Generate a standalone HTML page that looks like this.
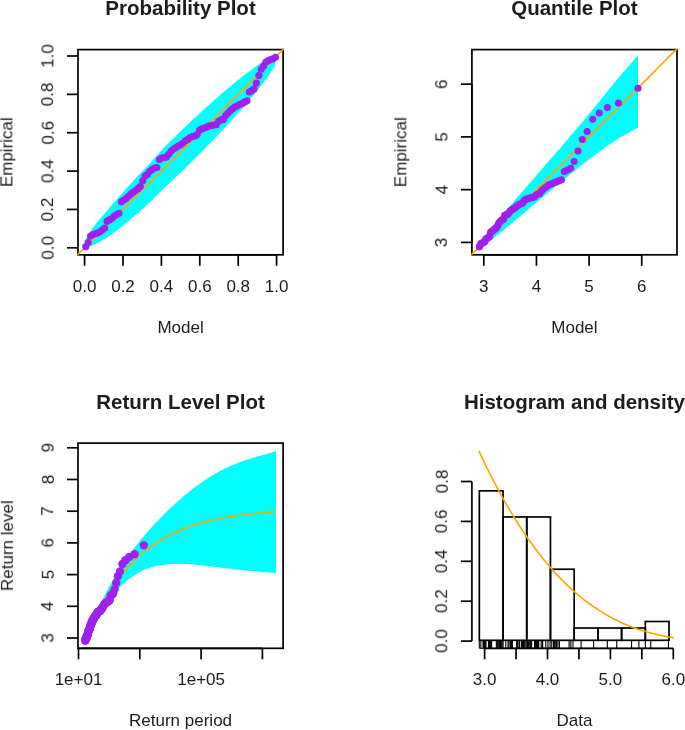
<!DOCTYPE html>
<html><head><meta charset="utf-8"><title>Diagnostic plots</title>
<style>html,body{margin:0;padding:0;background:#fff;overflow:hidden}svg{display:block}text{font-family:"Liberation Sans",sans-serif;fill:#1c1c1c;will-change:transform}</style>
</head><body>
<svg width="685" height="730" viewBox="0 0 685 730">
<rect width="685" height="730" fill="#fff"/>
<defs>
<clipPath id="c1"><rect x="77.25" y="48.85" width="206.60000000000002" height="206.70000000000002"/></clipPath>
<clipPath id="c2"><rect x="471.15" y="48.85" width="206.60000000000002" height="206.70000000000002"/></clipPath>
</defs>
<g><rect x="78.00" y="49.60" width="205.10" height="205.20" fill="none" stroke="#000" stroke-width="1.7"/><text x="180.55" y="15.10" font-size="20.5" text-anchor="middle" font-weight="bold">Probability Plot</text><text x="180.55" y="332.80" font-size="17" text-anchor="middle">Model</text><text x="12.60" y="152.20" font-size="17" text-anchor="middle" transform="rotate(-90 12.60 152.20)">Empirical</text><polygon fill="#00FFFF" points="85.79,247.74 88.16,247.22 90.53,246.32 92.90,245.19 95.27,243.90 97.64,242.68 100.01,241.47 102.38,240.18 104.75,238.83 107.12,237.43 109.49,235.81 111.86,234.06 114.23,232.26 116.60,230.43 118.97,228.58 121.34,226.70 123.71,224.79 126.08,222.86 128.45,220.91 130.82,218.93 133.19,216.94 135.56,214.93 137.93,212.90 140.30,210.85 142.67,208.79 145.04,206.71 147.41,204.62 149.79,202.51 152.16,200.14 154.53,197.72 156.90,195.30 159.27,192.85 161.64,190.40 164.01,188.17 166.38,185.96 168.75,183.75 171.12,181.52 173.49,179.28 175.86,177.02 178.23,174.76 180.60,172.48 182.97,170.19 185.34,167.88 187.71,165.57 190.08,163.24 192.45,160.90 194.82,158.54 197.19,156.18 199.56,153.80 201.93,151.41 204.30,149.00 206.67,146.58 209.04,144.15 211.41,141.70 213.79,139.24 216.16,136.76 218.53,134.27 220.90,131.76 223.27,129.24 225.64,126.70 228.01,124.14 230.38,121.56 232.75,118.96 235.12,116.35 237.49,113.71 239.86,111.04 242.23,108.35 244.60,105.64 246.97,102.89 249.34,100.12 251.71,97.30 254.08,94.45 256.45,91.55 258.82,88.60 261.19,85.59 263.56,82.51 265.93,79.33 268.30,76.03 270.67,72.56 273.04,68.83 275.41,64.54 275.41,56.06 273.04,56.58 270.67,57.48 268.30,58.61 265.93,59.90 263.56,61.31 261.19,62.80 258.82,64.36 256.45,65.99 254.08,67.67 251.71,69.39 249.34,71.14 246.97,72.94 244.60,74.77 242.23,76.62 239.86,78.50 237.49,80.41 235.12,82.34 232.75,84.29 230.38,86.27 228.01,88.26 225.64,90.27 223.27,92.30 220.90,94.35 218.53,96.41 216.16,98.49 213.79,100.58 211.41,102.69 209.04,104.81 206.67,106.95 204.30,109.10 201.93,111.26 199.56,113.44 197.19,115.63 194.82,117.84 192.45,120.05 190.08,122.28 187.71,124.52 185.34,126.78 182.97,129.04 180.60,131.32 178.23,133.61 175.86,135.92 173.49,138.23 171.12,140.56 168.75,142.90 166.38,145.26 164.01,147.62 161.64,150.04 159.27,152.71 156.90,155.39 154.53,158.09 152.16,160.80 149.79,163.50 147.41,165.96 145.04,168.44 142.67,170.93 140.30,173.44 137.93,175.96 135.56,178.50 133.19,181.06 130.82,183.64 128.45,186.24 126.08,188.85 123.71,191.49 121.34,194.16 118.97,196.85 116.60,199.56 114.23,202.31 111.86,205.08 109.49,207.90 107.12,210.65 104.75,213.27 102.38,215.94 100.01,218.68 97.64,221.48 95.27,224.47 92.90,227.77 90.53,231.24 88.16,234.97 85.79,239.26"/><g clip-path="url(#c1)"><line x1="46.20" y1="286.16" x2="315.00" y2="17.64" stroke="#FFA500" stroke-width="1.6"/></g><g fill="#A020F0"><circle cx="85.79" cy="246.65" r="3.55"/><circle cx="88.16" cy="242.24" r="3.55"/><circle cx="90.53" cy="236.00" r="3.55"/><circle cx="92.90" cy="234.57" r="3.55"/><circle cx="95.27" cy="233.80" r="3.55"/><circle cx="97.64" cy="232.90" r="3.55"/><circle cx="100.01" cy="231.69" r="3.55"/><circle cx="102.38" cy="229.85" r="3.55"/><circle cx="104.75" cy="227.95" r="3.55"/><circle cx="107.12" cy="221.33" r="3.55"/><circle cx="109.49" cy="219.89" r="3.55"/><circle cx="111.86" cy="218.45" r="3.55"/><circle cx="114.23" cy="216.15" r="3.55"/><circle cx="116.60" cy="214.48" r="3.55"/><circle cx="118.97" cy="213.28" r="3.55"/><circle cx="121.34" cy="201.86" r="3.55"/><circle cx="123.71" cy="200.04" r="3.55"/><circle cx="126.08" cy="198.51" r="3.55"/><circle cx="128.45" cy="196.28" r="3.55"/><circle cx="130.82" cy="194.17" r="3.55"/><circle cx="133.19" cy="192.27" r="3.55"/><circle cx="135.56" cy="190.45" r="3.55"/><circle cx="137.93" cy="188.63" r="3.55"/><circle cx="140.30" cy="186.50" r="3.55"/><circle cx="142.67" cy="180.80" r="3.55"/><circle cx="145.04" cy="176.05" r="3.55"/><circle cx="147.41" cy="174.21" r="3.55"/><circle cx="149.79" cy="171.31" r="3.55"/><circle cx="152.16" cy="169.41" r="3.55"/><circle cx="154.53" cy="168.01" r="3.55"/><circle cx="156.90" cy="167.49" r="3.55"/><circle cx="159.27" cy="159.46" r="3.55"/><circle cx="161.64" cy="158.04" r="3.55"/><circle cx="164.01" cy="157.56" r="3.55"/><circle cx="166.38" cy="157.08" r="3.55"/><circle cx="168.75" cy="154.20" r="3.55"/><circle cx="171.12" cy="150.94" r="3.55"/><circle cx="173.49" cy="149.02" r="3.55"/><circle cx="175.86" cy="147.49" r="3.55"/><circle cx="178.23" cy="146.09" r="3.55"/><circle cx="180.60" cy="144.86" r="3.55"/><circle cx="182.97" cy="142.96" r="3.55"/><circle cx="185.34" cy="140.81" r="3.55"/><circle cx="187.71" cy="139.43" r="3.55"/><circle cx="190.08" cy="137.44" r="3.55"/><circle cx="192.45" cy="136.48" r="3.55"/><circle cx="194.82" cy="136.00" r="3.55"/><circle cx="197.19" cy="134.60" r="3.55"/><circle cx="199.56" cy="130.30" r="3.55"/><circle cx="201.93" cy="128.90" r="3.55"/><circle cx="204.30" cy="127.94" r="3.55"/><circle cx="206.67" cy="127.00" r="3.55"/><circle cx="209.04" cy="126.05" r="3.55"/><circle cx="211.41" cy="125.59" r="3.55"/><circle cx="213.79" cy="125.11" r="3.55"/><circle cx="216.16" cy="124.63" r="3.55"/><circle cx="218.53" cy="121.31" r="3.55"/><circle cx="220.90" cy="119.91" r="3.55"/><circle cx="223.27" cy="119.41" r="3.55"/><circle cx="225.64" cy="115.61" r="3.55"/><circle cx="228.01" cy="112.96" r="3.55"/><circle cx="230.38" cy="110.55" r="3.55"/><circle cx="232.75" cy="108.65" r="3.55"/><circle cx="235.12" cy="106.75" r="3.55"/><circle cx="237.49" cy="105.83" r="3.55"/><circle cx="239.86" cy="104.39" r="3.55"/><circle cx="242.23" cy="103.60" r="3.55"/><circle cx="244.60" cy="102.16" r="3.55"/><circle cx="246.97" cy="100.74" r="3.55"/><circle cx="249.34" cy="91.96" r="3.55"/><circle cx="251.71" cy="90.57" r="3.55"/><circle cx="254.08" cy="88.88" r="3.55"/><circle cx="256.45" cy="83.03" r="3.55"/><circle cx="258.82" cy="75.59" r="3.55"/><circle cx="261.19" cy="69.32" r="3.55"/><circle cx="263.56" cy="65.98" r="3.55"/><circle cx="265.93" cy="62.06" r="3.55"/><circle cx="268.30" cy="60.61" r="3.55"/><circle cx="270.67" cy="59.56" r="3.55"/><circle cx="273.04" cy="58.84" r="3.55"/><circle cx="275.41" cy="57.21" r="3.55"/></g><line x1="84.60" y1="254.80" x2="276.60" y2="254.80" stroke="#000" stroke-width="1.7"/><line x1="84.60" y1="254.80" x2="84.60" y2="265.80" stroke="#000" stroke-width="1.7"/><text x="84.60" y="291.90" font-size="17" text-anchor="middle">0.0</text><line x1="78.00" y1="247.80" x2="67.00" y2="247.80" stroke="#000" stroke-width="1.7"/><text x="53.40" y="247.80" font-size="17" text-anchor="middle" transform="rotate(-90 53.40 247.80)">0.0</text><line x1="123.00" y1="254.80" x2="123.00" y2="265.80" stroke="#000" stroke-width="1.7"/><text x="123.00" y="291.90" font-size="17" text-anchor="middle">0.2</text><line x1="78.00" y1="209.44" x2="67.00" y2="209.44" stroke="#000" stroke-width="1.7"/><text x="53.40" y="209.44" font-size="17" text-anchor="middle" transform="rotate(-90 53.40 209.44)">0.2</text><line x1="161.40" y1="254.80" x2="161.40" y2="265.80" stroke="#000" stroke-width="1.7"/><text x="161.40" y="291.90" font-size="17" text-anchor="middle">0.4</text><line x1="78.00" y1="171.08" x2="67.00" y2="171.08" stroke="#000" stroke-width="1.7"/><text x="53.40" y="171.08" font-size="17" text-anchor="middle" transform="rotate(-90 53.40 171.08)">0.4</text><line x1="199.80" y1="254.80" x2="199.80" y2="265.80" stroke="#000" stroke-width="1.7"/><text x="199.80" y="291.90" font-size="17" text-anchor="middle">0.6</text><line x1="78.00" y1="132.72" x2="67.00" y2="132.72" stroke="#000" stroke-width="1.7"/><text x="53.40" y="132.72" font-size="17" text-anchor="middle" transform="rotate(-90 53.40 132.72)">0.6</text><line x1="238.20" y1="254.80" x2="238.20" y2="265.80" stroke="#000" stroke-width="1.7"/><text x="238.20" y="291.90" font-size="17" text-anchor="middle">0.8</text><line x1="78.00" y1="94.36" x2="67.00" y2="94.36" stroke="#000" stroke-width="1.7"/><text x="53.40" y="94.36" font-size="17" text-anchor="middle" transform="rotate(-90 53.40 94.36)">0.8</text><line x1="276.60" y1="254.80" x2="276.60" y2="265.80" stroke="#000" stroke-width="1.7"/><text x="276.60" y="291.90" font-size="17" text-anchor="middle">1.0</text><line x1="78.00" y1="56.00" x2="67.00" y2="56.00" stroke="#000" stroke-width="1.7"/><text x="53.40" y="56.00" font-size="17" text-anchor="middle" transform="rotate(-90 53.40 56.00)">1.0</text></g><g><rect x="471.90" y="49.60" width="205.10" height="205.20" fill="none" stroke="#000" stroke-width="1.7"/><text x="574.45" y="15.10" font-size="20.5" text-anchor="middle" font-weight="bold">Quantile Plot</text><text x="574.45" y="332.80" font-size="17" text-anchor="middle">Model</text><text x="406.50" y="152.20" font-size="17" text-anchor="middle" transform="rotate(-90 406.50 152.20)">Empirical</text><polygon fill="#00FFFF" points="479.35,247.18 480.04,247.03 480.73,246.77 481.43,246.44 482.14,246.07 482.86,245.65 483.58,245.21 484.31,244.75 485.05,244.26 485.79,243.76 486.55,243.23 487.31,242.70 488.07,242.14 488.85,241.58 489.64,240.99 490.43,240.40 491.24,239.79 492.05,239.17 492.87,238.54 493.71,237.90 494.55,237.24 495.41,236.57 496.27,235.89 497.15,235.20 498.03,234.49 498.93,233.77 499.84,233.04 500.77,232.29 501.71,231.53 502.66,230.76 503.62,229.97 504.60,229.17 505.59,228.35 506.60,227.52 507.63,226.68 508.67,225.82 509.73,224.94 510.81,224.04 511.91,223.13 513.02,222.20 514.16,221.25 515.32,220.28 516.50,219.30 517.70,218.29 518.93,217.26 520.18,216.20 521.46,215.13 522.76,214.03 524.10,212.90 525.47,211.74 526.87,210.56 528.31,209.35 529.78,208.10 531.29,206.83 532.85,205.51 534.45,204.16 536.09,202.77 537.79,201.33 539.55,199.85 541.36,198.32 543.23,196.74 545.18,195.10 547.20,193.40 549.31,191.63 551.51,189.79 553.81,187.86 556.23,185.85 558.77,183.73 561.46,181.50 564.32,179.14 567.37,176.64 570.64,173.97 574.19,171.09 578.06,167.98 582.35,164.58 587.16,160.82 592.67,156.58 599.21,151.69 607.33,145.85 618.43,138.42 638.00,127.53 638.00,55.29 618.43,77.68 607.33,91.44 599.21,101.47 592.67,109.45 587.16,116.13 582.35,121.91 578.06,127.01 574.19,131.60 570.64,135.78 567.37,139.63 564.32,143.19 561.46,146.52 558.77,149.65 556.23,152.61 553.81,155.40 551.51,158.07 549.31,160.61 547.20,163.04 545.18,165.37 543.23,167.61 541.36,169.77 539.55,171.85 537.79,173.87 536.09,175.82 534.45,177.71 532.85,179.55 531.29,181.33 529.78,183.07 528.31,184.76 526.87,186.41 525.47,188.03 524.10,189.60 522.76,191.14 521.46,192.65 520.18,194.12 518.93,195.57 517.70,196.98 516.50,198.37 515.32,199.74 514.16,201.08 513.02,202.40 511.91,203.69 510.81,204.97 509.73,206.22 508.67,207.46 507.63,208.67 506.60,209.87 505.59,211.06 504.60,212.22 503.62,213.38 502.66,214.51 501.71,215.64 500.77,216.75 499.84,217.84 498.93,218.93 498.03,220.00 497.15,221.07 496.27,222.12 495.41,223.16 494.55,224.20 493.71,225.22 492.87,226.24 492.05,227.25 491.24,228.26 490.43,229.25 489.64,230.25 488.85,231.23 488.07,232.22 487.31,233.20 486.55,234.18 485.79,235.16 485.05,236.14 484.31,237.13 483.58,238.12 482.86,239.12 482.14,240.14 481.43,241.18 480.73,242.26 480.04,243.40 479.35,244.69"/><g clip-path="url(#c2)"><line x1="431.15" y1="295.15" x2="747.05" y2="-21.35" stroke="#FFA500" stroke-width="1.6"/></g><g fill="#A020F0"><circle cx="479.35" cy="246.87" r="3.55"/><circle cx="480.04" cy="245.58" r="3.55"/><circle cx="480.73" cy="243.72" r="3.55"/><circle cx="481.43" cy="243.28" r="3.55"/><circle cx="482.14" cy="243.05" r="3.55"/><circle cx="482.86" cy="242.77" r="3.55"/><circle cx="483.58" cy="242.40" r="3.55"/><circle cx="484.31" cy="241.83" r="3.55"/><circle cx="485.05" cy="241.24" r="3.55"/><circle cx="485.79" cy="239.13" r="3.55"/><circle cx="486.55" cy="238.67" r="3.55"/><circle cx="487.31" cy="238.20" r="3.55"/><circle cx="488.07" cy="237.44" r="3.55"/><circle cx="488.85" cy="236.89" r="3.55"/><circle cx="489.64" cy="236.49" r="3.55"/><circle cx="490.43" cy="232.56" r="3.55"/><circle cx="491.24" cy="231.91" r="3.55"/><circle cx="492.05" cy="231.36" r="3.55"/><circle cx="492.87" cy="230.55" r="3.55"/><circle cx="493.71" cy="229.78" r="3.55"/><circle cx="494.55" cy="229.07" r="3.55"/><circle cx="495.41" cy="228.39" r="3.55"/><circle cx="496.27" cy="227.70" r="3.55"/><circle cx="497.15" cy="226.89" r="3.55"/><circle cx="498.03" cy="224.66" r="3.55"/><circle cx="498.93" cy="222.73" r="3.55"/><circle cx="499.84" cy="221.97" r="3.55"/><circle cx="500.77" cy="220.76" r="3.55"/><circle cx="501.71" cy="219.95" r="3.55"/><circle cx="502.66" cy="219.35" r="3.55"/><circle cx="503.62" cy="219.13" r="3.55"/><circle cx="504.60" cy="215.55" r="3.55"/><circle cx="505.59" cy="214.89" r="3.55"/><circle cx="506.60" cy="214.67" r="3.55"/><circle cx="507.63" cy="214.45" r="3.55"/><circle cx="508.67" cy="213.09" r="3.55"/><circle cx="509.73" cy="211.52" r="3.55"/><circle cx="510.81" cy="210.57" r="3.55"/><circle cx="511.91" cy="209.81" r="3.55"/><circle cx="513.02" cy="209.10" r="3.55"/><circle cx="514.16" cy="208.47" r="3.55"/><circle cx="515.32" cy="207.49" r="3.55"/><circle cx="516.50" cy="206.36" r="3.55"/><circle cx="517.70" cy="205.62" r="3.55"/><circle cx="518.93" cy="204.53" r="3.55"/><circle cx="520.18" cy="204.00" r="3.55"/><circle cx="521.46" cy="203.74" r="3.55"/><circle cx="522.76" cy="202.95" r="3.55"/><circle cx="524.10" cy="200.48" r="3.55"/><circle cx="525.47" cy="199.65" r="3.55"/><circle cx="526.87" cy="199.08" r="3.55"/><circle cx="528.31" cy="198.51" r="3.55"/><circle cx="529.78" cy="197.93" r="3.55"/><circle cx="531.29" cy="197.64" r="3.55"/><circle cx="532.85" cy="197.35" r="3.55"/><circle cx="534.45" cy="197.05" r="3.55"/><circle cx="536.09" cy="194.94" r="3.55"/><circle cx="537.79" cy="194.03" r="3.55"/><circle cx="539.55" cy="193.70" r="3.55"/><circle cx="541.36" cy="191.13" r="3.55"/><circle cx="543.23" cy="189.26" r="3.55"/><circle cx="545.18" cy="187.50" r="3.55"/><circle cx="547.20" cy="186.07" r="3.55"/><circle cx="549.31" cy="184.61" r="3.55"/><circle cx="551.51" cy="183.88" r="3.55"/><circle cx="553.81" cy="182.73" r="3.55"/><circle cx="556.23" cy="182.09" r="3.55"/><circle cx="558.77" cy="180.89" r="3.55"/><circle cx="561.46" cy="179.68" r="3.55"/><circle cx="564.32" cy="171.50" r="3.55"/><circle cx="567.37" cy="170.08" r="3.55"/><circle cx="570.64" cy="168.29" r="3.55"/><circle cx="574.19" cy="161.48" r="3.55"/><circle cx="578.06" cy="150.98" r="3.55"/><circle cx="582.35" cy="139.48" r="3.55"/><circle cx="587.16" cy="131.57" r="3.55"/><circle cx="592.67" cy="119.18" r="3.55"/><circle cx="599.21" cy="113.00" r="3.55"/><circle cx="607.33" cy="107.57" r="3.55"/><circle cx="618.43" cy="103.09" r="3.55"/><circle cx="638.00" cy="88.21" r="3.55"/></g><line x1="483.80" y1="254.80" x2="641.75" y2="254.80" stroke="#000" stroke-width="1.7"/><line x1="471.90" y1="242.40" x2="471.90" y2="84.15" stroke="#000" stroke-width="1.7"/><line x1="483.80" y1="254.80" x2="483.80" y2="265.80" stroke="#000" stroke-width="1.7"/><text x="483.80" y="291.90" font-size="17" text-anchor="middle">3</text><line x1="471.90" y1="242.40" x2="460.90" y2="242.40" stroke="#000" stroke-width="1.7"/><text x="447.30" y="242.40" font-size="17" text-anchor="middle" transform="rotate(-90 447.30 242.40)">3</text><line x1="536.45" y1="254.80" x2="536.45" y2="265.80" stroke="#000" stroke-width="1.7"/><text x="536.45" y="291.90" font-size="17" text-anchor="middle">4</text><line x1="471.90" y1="189.65" x2="460.90" y2="189.65" stroke="#000" stroke-width="1.7"/><text x="447.30" y="189.65" font-size="17" text-anchor="middle" transform="rotate(-90 447.30 189.65)">4</text><line x1="589.10" y1="254.80" x2="589.10" y2="265.80" stroke="#000" stroke-width="1.7"/><text x="589.10" y="291.90" font-size="17" text-anchor="middle">5</text><line x1="471.90" y1="136.90" x2="460.90" y2="136.90" stroke="#000" stroke-width="1.7"/><text x="447.30" y="136.90" font-size="17" text-anchor="middle" transform="rotate(-90 447.30 136.90)">5</text><line x1="641.75" y1="254.80" x2="641.75" y2="265.80" stroke="#000" stroke-width="1.7"/><text x="641.75" y="291.90" font-size="17" text-anchor="middle">6</text><line x1="471.90" y1="84.15" x2="460.90" y2="84.15" stroke="#000" stroke-width="1.7"/><text x="447.30" y="84.15" font-size="17" text-anchor="middle" transform="rotate(-90 447.30 84.15)">6</text></g><g><polygon fill="#00FFFF" points="100.80,603.23 102.27,600.13 103.74,597.12 105.22,594.18 106.69,591.32 108.16,588.53 109.63,585.80 111.11,583.14 112.58,580.54 114.05,578.01 115.52,575.53 116.99,573.10 118.47,570.73 119.94,568.40 121.41,566.13 122.88,563.90 124.36,561.71 125.83,559.57 127.30,557.47 128.77,555.40 130.25,553.38 131.72,551.38 133.19,549.43 134.66,547.50 136.13,545.61 137.61,543.74 139.08,541.91 140.55,540.10 142.02,538.31 143.50,536.56 144.97,534.83 146.44,533.12 147.91,531.43 149.38,529.77 150.86,528.13 152.33,526.51 153.80,524.91 155.27,523.32 156.75,521.76 158.22,520.22 159.69,518.69 161.16,517.19 162.64,515.70 164.11,514.23 165.58,512.77 167.05,511.33 168.52,509.91 170.00,508.51 171.47,507.12 172.94,505.75 174.41,504.39 175.89,503.05 177.36,501.73 178.83,500.43 180.30,499.14 181.77,497.86 183.25,496.61 184.72,495.37 186.19,494.15 187.66,492.94 189.14,491.75 190.61,490.58 192.08,489.43 193.55,488.30 195.03,487.18 196.50,486.08 197.97,485.00 199.44,483.93 200.91,482.89 202.39,481.86 203.86,480.86 205.33,479.87 206.80,478.90 208.28,477.95 209.75,477.02 211.22,476.11 212.69,475.22 214.16,474.35 215.64,473.50 217.11,472.66 218.58,471.85 220.05,471.06 221.53,470.29 223.00,469.53 224.47,468.80 225.94,468.08 227.42,467.38 228.89,466.71 230.36,466.05 231.83,465.40 233.30,464.78 234.78,464.17 236.25,463.58 237.72,463.01 239.19,462.45 240.67,461.91 242.14,461.38 243.61,460.87 245.08,460.37 246.55,459.88 248.03,459.41 249.50,458.94 250.97,458.49 252.44,458.04 253.92,457.60 255.39,457.16 256.86,456.74 258.33,456.31 259.81,455.89 261.28,455.47 262.75,455.04 264.22,454.62 265.69,454.19 267.17,453.75 268.64,453.31 270.11,452.86 271.58,452.39 273.06,451.91 274.53,451.42 276.00,450.90 276.00,572.90 272.00,572.70 268.00,572.40 264.00,572.20 260.00,571.80 256.00,571.50 252.00,571.10 248.00,570.70 244.00,570.30 240.00,569.80 236.00,569.40 232.00,568.90 228.00,568.40 224.00,567.90 220.00,567.40 216.00,567.00 212.00,566.50 208.00,566.00 204.00,565.60 200.00,565.20 196.00,564.80 192.00,564.40 188.00,564.10 184.00,563.90 180.00,563.80 176.00,563.80 172.00,563.90 168.00,564.10 165.00,564.40 163.40,564.70 161.80,564.90 160.20,565.10 158.60,565.40 157.00,565.80 155.40,566.10 153.80,566.50 152.20,567.00 150.60,567.40 149.10,568.00 147.50,568.50 145.90,569.10 144.30,569.80 142.70,570.50 141.10,571.30 139.50,572.10 137.90,573.00 136.30,573.90 134.70,574.90 133.10,576.00 131.50,577.10 129.90,578.20 128.30,579.50 126.70,580.80 125.10,582.20 123.50,583.60 121.90,585.20 120.40,586.80 118.80,588.50 100.80,606.00"/><polyline fill="none" stroke="#FFA500" stroke-width="1.6" points="99.92,608.69 100.81,607.02 101.69,605.39 102.58,603.78 103.46,602.20 104.35,600.65 105.23,599.12 106.12,597.62 107.00,596.14 107.89,594.68 108.77,593.25 109.66,591.84 110.54,590.46 111.43,589.10 112.31,587.76 113.20,586.44 114.08,585.15 114.97,583.88 115.85,582.62 116.73,581.39 117.62,580.18 118.50,578.99 119.39,577.82 120.27,576.66 121.16,575.53 122.04,574.41 122.93,573.32 123.81,572.24 124.70,571.18 125.58,570.13 126.47,569.11 127.35,568.10 128.24,567.11 129.12,566.13 130.01,565.17 130.89,564.23 131.78,563.30 132.66,562.38 133.55,561.49 134.43,560.60 135.32,559.73 136.20,558.88 137.09,558.04 137.97,557.21 138.85,556.40 139.74,555.60 140.62,554.81 141.51,554.04 142.39,553.28 143.28,552.53 144.16,551.79 145.05,551.07 145.93,550.36 146.82,549.66 147.70,548.97 148.59,548.29 149.47,547.62 150.36,546.97 151.24,546.33 152.13,545.69 153.01,545.07 153.90,544.45 154.78,543.85 155.67,543.26 156.55,542.68 157.44,542.10 158.32,541.54 159.21,540.98 160.09,540.44 160.98,539.90 161.86,539.37 162.74,538.85 163.63,538.34 164.51,537.84 165.40,537.35 166.28,536.86 167.17,536.38 168.05,535.91 168.94,535.45 169.82,535.00 170.71,534.55 171.59,534.11 172.48,533.68 173.36,533.25 174.25,532.83 175.13,532.42 176.02,532.02 176.90,531.62 177.79,531.23 178.67,530.84 179.56,530.47 180.44,530.09 181.33,529.73 182.21,529.37 183.10,529.01 183.98,528.66 184.86,528.32 185.75,527.98 186.63,527.65 187.52,527.33 188.40,527.01 189.29,526.69 190.17,526.38 191.06,526.08 191.94,525.78 192.83,525.48 193.71,525.19 194.60,524.90 195.48,524.62 196.37,524.35 197.25,524.08 198.14,523.81 199.02,523.55 199.91,523.29 200.79,523.03 201.68,522.78 202.56,522.54 203.45,522.30 204.33,522.06 205.22,521.83 206.10,521.60 206.99,521.37 207.87,521.15 208.75,520.93 209.64,520.71 210.52,520.50 211.41,520.29 212.29,520.09 213.18,519.89 214.06,519.69 214.95,519.49 215.83,519.30 216.72,519.11 217.60,518.93 218.49,518.75 219.37,518.57 220.26,518.39 221.14,518.22 222.03,518.05 222.91,517.88 223.80,517.71 224.68,517.55 225.57,517.39 226.45,517.24 227.34,517.08 228.22,516.93 229.11,516.78 229.99,516.63 230.87,516.49 231.76,516.35 232.64,516.21 233.53,516.07 234.41,515.94 235.30,515.80 236.18,515.67 237.07,515.54 237.95,515.42 238.84,515.29 239.72,515.17 240.61,515.05 241.49,514.93 242.38,514.82 243.26,514.70 244.15,514.59 245.03,514.48 245.92,514.37 246.80,514.26 247.69,514.16 248.57,514.05 249.46,513.95 250.34,513.85 251.23,513.75 252.11,513.66 253.00,513.56 253.88,513.47 254.76,513.37 255.65,513.28 256.53,513.19 257.42,513.11 258.30,513.02 259.19,512.94 260.07,512.85 260.96,512.77 261.84,512.69 262.73,512.61 263.61,512.53 264.50,512.45 265.38,512.38 266.27,512.30 267.15,512.23 268.04,512.16 268.92,512.09 269.81,512.02 270.69,511.95 271.58,511.88 272.46,511.82 273.35,511.75 274.23,511.69 275.12,511.63 276.00,511.56"/><g fill="#A020F0"><circle cx="85.33" cy="640.68" r="4.2"/><circle cx="85.49" cy="639.91" r="4.2"/><circle cx="85.66" cy="638.79" r="4.2"/><circle cx="85.83" cy="638.53" r="4.2"/><circle cx="86.00" cy="638.39" r="4.2"/><circle cx="86.18" cy="638.22" r="4.2"/><circle cx="86.35" cy="638.00" r="4.2"/><circle cx="86.53" cy="637.66" r="4.2"/><circle cx="86.71" cy="637.30" r="4.2"/><circle cx="86.90" cy="636.04" r="4.2"/><circle cx="87.08" cy="635.76" r="4.2"/><circle cx="87.27" cy="635.48" r="4.2"/><circle cx="87.46" cy="635.02" r="4.2"/><circle cx="87.66" cy="634.69" r="4.2"/><circle cx="87.86" cy="634.45" r="4.2"/><circle cx="88.06" cy="632.09" r="4.2"/><circle cx="88.26" cy="631.70" r="4.2"/><circle cx="88.46" cy="631.36" r="4.2"/><circle cx="88.67" cy="630.88" r="4.2"/><circle cx="88.89" cy="630.41" r="4.2"/><circle cx="89.10" cy="629.99" r="4.2"/><circle cx="89.32" cy="629.58" r="4.2"/><circle cx="89.55" cy="629.17" r="4.2"/><circle cx="89.78" cy="628.68" r="4.2"/><circle cx="90.01" cy="627.34" r="4.2"/><circle cx="90.24" cy="626.18" r="4.2"/><circle cx="90.48" cy="625.73" r="4.2"/><circle cx="90.73" cy="625.00" r="4.2"/><circle cx="90.98" cy="624.51" r="4.2"/><circle cx="91.23" cy="624.15" r="4.2"/><circle cx="91.49" cy="624.01" r="4.2"/><circle cx="91.75" cy="621.86" r="4.2"/><circle cx="92.02" cy="621.47" r="4.2"/><circle cx="92.29" cy="621.34" r="4.2"/><circle cx="92.57" cy="621.20" r="4.2"/><circle cx="92.86" cy="620.39" r="4.2"/><circle cx="93.15" cy="619.44" r="4.2"/><circle cx="93.45" cy="618.87" r="4.2"/><circle cx="93.76" cy="618.41" r="4.2"/><circle cx="94.07" cy="617.99" r="4.2"/><circle cx="94.39" cy="617.61" r="4.2"/><circle cx="94.72" cy="617.02" r="4.2"/><circle cx="95.06" cy="616.34" r="4.2"/><circle cx="95.40" cy="615.89" r="4.2"/><circle cx="95.76" cy="615.24" r="4.2"/><circle cx="96.12" cy="614.93" r="4.2"/><circle cx="96.50" cy="614.77" r="4.2"/><circle cx="96.88" cy="614.30" r="4.2"/><circle cx="97.28" cy="612.81" r="4.2"/><circle cx="97.69" cy="612.31" r="4.2"/><circle cx="98.11" cy="611.97" r="4.2"/><circle cx="98.55" cy="611.63" r="4.2"/><circle cx="99.00" cy="611.27" r="4.2"/><circle cx="99.47" cy="611.10" r="4.2"/><circle cx="99.95" cy="610.92" r="4.2"/><circle cx="100.46" cy="610.75" r="4.2"/><circle cx="100.98" cy="609.48" r="4.2"/><circle cx="101.52" cy="608.93" r="4.2"/><circle cx="102.09" cy="608.73" r="4.2"/><circle cx="102.68" cy="607.19" r="4.2"/><circle cx="103.30" cy="606.07" r="4.2"/><circle cx="103.95" cy="605.01" r="4.2"/><circle cx="104.63" cy="604.15" r="4.2"/><circle cx="105.35" cy="603.27" r="4.2"/><circle cx="106.11" cy="602.83" r="4.2"/><circle cx="106.92" cy="602.14" r="4.2"/><circle cx="107.78" cy="601.76" r="4.2"/><circle cx="108.70" cy="601.04" r="4.2"/><circle cx="109.68" cy="600.31" r="4.2"/><circle cx="110.75" cy="595.40" r="4.2"/><circle cx="111.91" cy="594.54" r="4.2"/><circle cx="113.17" cy="593.46" r="4.2"/><circle cx="114.58" cy="589.37" r="4.2"/><circle cx="116.14" cy="583.06" r="4.2"/><circle cx="117.92" cy="576.15" r="4.2"/><circle cx="119.97" cy="571.40" r="4.2"/><circle cx="122.40" cy="563.95" r="4.2"/><circle cx="125.37" cy="560.24" r="4.2"/><circle cx="129.20" cy="556.97" r="4.2"/><circle cx="134.60" cy="554.28" r="4.2"/><circle cx="143.82" cy="545.34" r="4.2"/></g><rect x="78.00" y="443.10" width="205.10" height="205.20" fill="none" stroke="#000" stroke-width="1.7"/><text x="180.55" y="408.60" font-size="20.5" text-anchor="middle" font-weight="bold">Return Level Plot</text><text x="180.55" y="726.30" font-size="17" text-anchor="middle">Return period</text><text x="12.60" y="545.70" font-size="17" text-anchor="middle" transform="rotate(-90 12.60 545.70)">Return level</text><line x1="78.50" y1="648.30" x2="262.40" y2="648.30" stroke="#000" stroke-width="1.7"/><line x1="78.50" y1="648.30" x2="78.50" y2="659.30" stroke="#000" stroke-width="1.7"/><line x1="139.80" y1="648.30" x2="139.80" y2="659.30" stroke="#000" stroke-width="1.7"/><line x1="201.10" y1="648.30" x2="201.10" y2="659.30" stroke="#000" stroke-width="1.7"/><line x1="262.40" y1="648.30" x2="262.40" y2="659.30" stroke="#000" stroke-width="1.7"/><text x="78.50" y="685.40" font-size="17" text-anchor="middle">1e+01</text><text x="201.10" y="685.40" font-size="17" text-anchor="middle">1e+05</text><line x1="78.00" y1="638.00" x2="67.00" y2="638.00" stroke="#000" stroke-width="1.7"/><text x="53.40" y="638.00" font-size="17" text-anchor="middle" transform="rotate(-90 53.40 638.00)">3</text><line x1="78.00" y1="606.30" x2="67.00" y2="606.30" stroke="#000" stroke-width="1.7"/><text x="53.40" y="606.30" font-size="17" text-anchor="middle" transform="rotate(-90 53.40 606.30)">4</text><line x1="78.00" y1="574.60" x2="67.00" y2="574.60" stroke="#000" stroke-width="1.7"/><text x="53.40" y="574.60" font-size="17" text-anchor="middle" transform="rotate(-90 53.40 574.60)">5</text><line x1="78.00" y1="542.90" x2="67.00" y2="542.90" stroke="#000" stroke-width="1.7"/><text x="53.40" y="542.90" font-size="17" text-anchor="middle" transform="rotate(-90 53.40 542.90)">6</text><line x1="78.00" y1="511.20" x2="67.00" y2="511.20" stroke="#000" stroke-width="1.7"/><text x="53.40" y="511.20" font-size="17" text-anchor="middle" transform="rotate(-90 53.40 511.20)">7</text><line x1="78.00" y1="479.50" x2="67.00" y2="479.50" stroke="#000" stroke-width="1.7"/><text x="53.40" y="479.50" font-size="17" text-anchor="middle" transform="rotate(-90 53.40 479.50)">8</text><line x1="78.00" y1="447.80" x2="67.00" y2="447.80" stroke="#000" stroke-width="1.7"/><text x="53.40" y="447.80" font-size="17" text-anchor="middle" transform="rotate(-90 53.40 447.80)">9</text></g><g><rect x="479.32" y="490.84" width="23.71" height="149.46" fill="none" stroke="#000" stroke-width="1.7"/><rect x="503.03" y="516.97" width="23.71" height="123.33" fill="none" stroke="#000" stroke-width="1.7"/><rect x="526.74" y="516.97" width="23.71" height="123.33" fill="none" stroke="#000" stroke-width="1.7"/><rect x="550.46" y="569.24" width="23.71" height="71.06" fill="none" stroke="#000" stroke-width="1.7"/><rect x="574.17" y="628.03" width="23.71" height="12.27" fill="none" stroke="#000" stroke-width="1.7"/><rect x="597.88" y="628.03" width="23.71" height="12.27" fill="none" stroke="#000" stroke-width="1.7"/><rect x="621.60" y="628.03" width="23.71" height="12.27" fill="none" stroke="#000" stroke-width="1.7"/><rect x="645.31" y="621.50" width="23.71" height="18.80" fill="none" stroke="#000" stroke-width="1.7"/><line x1="479.27" y1="641.00" x2="479.27" y2="648.30" stroke="#000" stroke-width="1.1"/><line x1="480.81" y1="641.00" x2="480.81" y2="648.30" stroke="#000" stroke-width="1.1"/><line x1="483.03" y1="641.00" x2="483.03" y2="648.30" stroke="#000" stroke-width="1.1"/><line x1="483.55" y1="641.00" x2="483.55" y2="648.30" stroke="#000" stroke-width="1.1"/><line x1="483.83" y1="641.00" x2="483.83" y2="648.30" stroke="#000" stroke-width="1.1"/><line x1="484.16" y1="641.00" x2="484.16" y2="648.30" stroke="#000" stroke-width="1.1"/><line x1="484.60" y1="641.00" x2="484.60" y2="648.30" stroke="#000" stroke-width="1.1"/><line x1="485.28" y1="641.00" x2="485.28" y2="648.30" stroke="#000" stroke-width="1.1"/><line x1="485.99" y1="641.00" x2="485.99" y2="648.30" stroke="#000" stroke-width="1.1"/><line x1="488.49" y1="641.00" x2="488.49" y2="648.30" stroke="#000" stroke-width="1.1"/><line x1="489.05" y1="641.00" x2="489.05" y2="648.30" stroke="#000" stroke-width="1.1"/><line x1="489.61" y1="641.00" x2="489.61" y2="648.30" stroke="#000" stroke-width="1.1"/><line x1="490.51" y1="641.00" x2="490.51" y2="648.30" stroke="#000" stroke-width="1.1"/><line x1="491.17" y1="641.00" x2="491.17" y2="648.30" stroke="#000" stroke-width="1.1"/><line x1="491.65" y1="641.00" x2="491.65" y2="648.30" stroke="#000" stroke-width="1.1"/><line x1="496.34" y1="641.00" x2="496.34" y2="648.30" stroke="#000" stroke-width="1.1"/><line x1="497.11" y1="641.00" x2="497.11" y2="648.30" stroke="#000" stroke-width="1.1"/><line x1="497.77" y1="641.00" x2="497.77" y2="648.30" stroke="#000" stroke-width="1.1"/><line x1="498.73" y1="641.00" x2="498.73" y2="648.30" stroke="#000" stroke-width="1.1"/><line x1="499.65" y1="641.00" x2="499.65" y2="648.30" stroke="#000" stroke-width="1.1"/><line x1="500.49" y1="641.00" x2="500.49" y2="648.30" stroke="#000" stroke-width="1.1"/><line x1="501.31" y1="641.00" x2="501.31" y2="648.30" stroke="#000" stroke-width="1.1"/><line x1="502.13" y1="641.00" x2="502.13" y2="648.30" stroke="#000" stroke-width="1.1"/><line x1="503.10" y1="641.00" x2="503.10" y2="648.30" stroke="#000" stroke-width="1.1"/><line x1="505.76" y1="641.00" x2="505.76" y2="648.30" stroke="#000" stroke-width="1.1"/><line x1="508.05" y1="641.00" x2="508.05" y2="648.30" stroke="#000" stroke-width="1.1"/><line x1="508.96" y1="641.00" x2="508.96" y2="648.30" stroke="#000" stroke-width="1.1"/><line x1="510.40" y1="641.00" x2="510.40" y2="648.30" stroke="#000" stroke-width="1.1"/><line x1="511.36" y1="641.00" x2="511.36" y2="648.30" stroke="#000" stroke-width="1.1"/><line x1="512.08" y1="641.00" x2="512.08" y2="648.30" stroke="#000" stroke-width="1.1"/><line x1="512.35" y1="641.00" x2="512.35" y2="648.30" stroke="#000" stroke-width="1.1"/><line x1="516.62" y1="641.00" x2="516.62" y2="648.30" stroke="#000" stroke-width="1.1"/><line x1="517.40" y1="641.00" x2="517.40" y2="648.30" stroke="#000" stroke-width="1.1"/><line x1="517.66" y1="641.00" x2="517.66" y2="648.30" stroke="#000" stroke-width="1.1"/><line x1="517.93" y1="641.00" x2="517.93" y2="648.30" stroke="#000" stroke-width="1.1"/><line x1="519.55" y1="641.00" x2="519.55" y2="648.30" stroke="#000" stroke-width="1.1"/><line x1="521.42" y1="641.00" x2="521.42" y2="648.30" stroke="#000" stroke-width="1.1"/><line x1="522.55" y1="641.00" x2="522.55" y2="648.30" stroke="#000" stroke-width="1.1"/><line x1="523.47" y1="641.00" x2="523.47" y2="648.30" stroke="#000" stroke-width="1.1"/><line x1="524.31" y1="641.00" x2="524.31" y2="648.30" stroke="#000" stroke-width="1.1"/><line x1="525.06" y1="641.00" x2="525.06" y2="648.30" stroke="#000" stroke-width="1.1"/><line x1="526.23" y1="641.00" x2="526.23" y2="648.30" stroke="#000" stroke-width="1.1"/><line x1="527.58" y1="641.00" x2="527.58" y2="648.30" stroke="#000" stroke-width="1.1"/><line x1="528.46" y1="641.00" x2="528.46" y2="648.30" stroke="#000" stroke-width="1.1"/><line x1="529.75" y1="641.00" x2="529.75" y2="648.30" stroke="#000" stroke-width="1.1"/><line x1="530.38" y1="641.00" x2="530.38" y2="648.30" stroke="#000" stroke-width="1.1"/><line x1="530.70" y1="641.00" x2="530.70" y2="648.30" stroke="#000" stroke-width="1.1"/><line x1="531.64" y1="641.00" x2="531.64" y2="648.30" stroke="#000" stroke-width="1.1"/><line x1="534.58" y1="641.00" x2="534.58" y2="648.30" stroke="#000" stroke-width="1.1"/><line x1="535.57" y1="641.00" x2="535.57" y2="648.30" stroke="#000" stroke-width="1.1"/><line x1="536.26" y1="641.00" x2="536.26" y2="648.30" stroke="#000" stroke-width="1.1"/><line x1="536.93" y1="641.00" x2="536.93" y2="648.30" stroke="#000" stroke-width="1.1"/><line x1="537.63" y1="641.00" x2="537.63" y2="648.30" stroke="#000" stroke-width="1.1"/><line x1="537.97" y1="641.00" x2="537.97" y2="648.30" stroke="#000" stroke-width="1.1"/><line x1="538.32" y1="641.00" x2="538.32" y2="648.30" stroke="#000" stroke-width="1.1"/><line x1="538.68" y1="641.00" x2="538.68" y2="648.30" stroke="#000" stroke-width="1.1"/><line x1="541.19" y1="641.00" x2="541.19" y2="648.30" stroke="#000" stroke-width="1.1"/><line x1="542.28" y1="641.00" x2="542.28" y2="648.30" stroke="#000" stroke-width="1.1"/><line x1="542.67" y1="641.00" x2="542.67" y2="648.30" stroke="#000" stroke-width="1.1"/><line x1="545.74" y1="641.00" x2="545.74" y2="648.30" stroke="#000" stroke-width="1.1"/><line x1="547.97" y1="641.00" x2="547.97" y2="648.30" stroke="#000" stroke-width="1.1"/><line x1="550.07" y1="641.00" x2="550.07" y2="648.30" stroke="#000" stroke-width="1.1"/><line x1="551.77" y1="641.00" x2="551.77" y2="648.30" stroke="#000" stroke-width="1.1"/><line x1="553.51" y1="641.00" x2="553.51" y2="648.30" stroke="#000" stroke-width="1.1"/><line x1="554.38" y1="641.00" x2="554.38" y2="648.30" stroke="#000" stroke-width="1.1"/><line x1="555.75" y1="641.00" x2="555.75" y2="648.30" stroke="#000" stroke-width="1.1"/><line x1="556.52" y1="641.00" x2="556.52" y2="648.30" stroke="#000" stroke-width="1.1"/><line x1="557.94" y1="641.00" x2="557.94" y2="648.30" stroke="#000" stroke-width="1.1"/><line x1="559.39" y1="641.00" x2="559.39" y2="648.30" stroke="#000" stroke-width="1.1"/><line x1="569.14" y1="641.00" x2="569.14" y2="648.30" stroke="#000" stroke-width="1.1"/><line x1="570.84" y1="641.00" x2="570.84" y2="648.30" stroke="#000" stroke-width="1.1"/><line x1="572.97" y1="641.00" x2="572.97" y2="648.30" stroke="#000" stroke-width="1.1"/><line x1="581.09" y1="641.00" x2="581.09" y2="648.30" stroke="#000" stroke-width="1.1"/><line x1="593.61" y1="641.00" x2="593.61" y2="648.30" stroke="#000" stroke-width="1.1"/><line x1="607.32" y1="641.00" x2="607.32" y2="648.30" stroke="#000" stroke-width="1.1"/><line x1="616.75" y1="641.00" x2="616.75" y2="648.30" stroke="#000" stroke-width="1.1"/><line x1="631.53" y1="641.00" x2="631.53" y2="648.30" stroke="#000" stroke-width="1.1"/><line x1="638.89" y1="641.00" x2="638.89" y2="648.30" stroke="#000" stroke-width="1.1"/><line x1="645.37" y1="641.00" x2="645.37" y2="648.30" stroke="#000" stroke-width="1.1"/><line x1="650.72" y1="641.00" x2="650.72" y2="648.30" stroke="#000" stroke-width="1.1"/><line x1="668.46" y1="641.00" x2="668.46" y2="648.30" stroke="#000" stroke-width="1.1"/><line x1="479.27" y1="648.30" x2="668.46" y2="648.30" stroke="#000" stroke-width="0.95"/><polyline fill="none" stroke="#FFA500" stroke-width="1.6" points="478.88,450.92 480.52,454.44 482.16,457.92 483.80,461.36 485.44,464.75 487.08,468.10 488.72,471.41 490.36,474.67 492.00,477.90 493.64,481.08 495.28,484.22 496.92,487.31 498.56,490.37 500.20,493.39 501.84,496.36 503.48,499.30 505.12,502.19 506.76,505.05 508.40,507.87 510.04,510.64 511.68,513.38 513.32,516.08 514.96,518.74 516.60,521.37 518.24,523.95 519.88,526.50 521.52,529.01 523.16,531.49 524.80,533.92 526.44,536.32 528.08,538.69 529.72,541.02 531.36,543.31 533.00,545.57 534.64,547.79 536.28,549.98 537.92,552.13 539.56,554.25 541.20,556.34 542.84,558.39 544.48,560.41 546.12,562.39 547.76,564.35 549.40,566.27 551.04,568.16 552.68,570.01 554.32,571.84 555.96,573.63 557.60,575.39 559.24,577.12 560.88,578.82 562.52,580.49 564.16,582.13 565.80,583.74 567.44,585.32 569.08,586.87 570.72,588.39 572.37,589.88 574.01,591.35 575.65,592.78 577.29,594.19 578.93,595.57 580.57,596.93 582.21,598.25 583.85,599.55 585.49,600.82 587.13,602.07 588.77,603.29 590.41,604.49 592.05,605.66 593.69,606.80 595.33,607.92 596.97,609.01 598.61,610.08 600.25,611.13 601.89,612.15 603.53,613.15 605.17,614.13 606.81,615.08 608.45,616.01 610.09,616.92 611.73,617.80 613.37,618.67 615.01,619.51 616.65,620.33 618.29,621.13 619.93,621.91 621.57,622.67 623.21,623.41 624.85,624.12 626.49,624.82 628.13,625.50 629.77,626.16 631.41,626.80 633.05,627.42 634.69,628.03 636.33,628.61 637.97,629.18 639.61,629.73 641.25,630.27 642.89,630.78 644.53,631.28 646.17,631.77 647.81,632.23 649.45,632.68 651.09,633.12 652.73,633.54 654.37,633.95 656.01,634.34 657.65,634.71 659.29,635.08 660.93,635.42 662.57,635.76 664.21,636.08 665.85,636.39 667.49,636.68 669.13,636.96 670.77,637.23 672.41,637.49 674.05,637.74"/><text x="574.45" y="408.60" font-size="20.5" text-anchor="middle" font-weight="bold">Histogram and density</text><text x="574.45" y="726.30" font-size="17" text-anchor="middle">Data</text><text x="406.50" y="545.70" font-size="17" text-anchor="middle" transform="rotate(-90 406.50 545.70)"></text><line x1="471.90" y1="641.10" x2="471.90" y2="481.50" stroke="#000" stroke-width="1.7"/><line x1="471.90" y1="641.10" x2="460.90" y2="641.10" stroke="#000" stroke-width="1.7"/><text x="447.30" y="641.10" font-size="17" text-anchor="middle" transform="rotate(-90 447.30 641.10)">0.0</text><line x1="471.90" y1="601.20" x2="460.90" y2="601.20" stroke="#000" stroke-width="1.7"/><text x="447.30" y="601.20" font-size="17" text-anchor="middle" transform="rotate(-90 447.30 601.20)">0.2</text><line x1="471.90" y1="561.30" x2="460.90" y2="561.30" stroke="#000" stroke-width="1.7"/><text x="447.30" y="561.30" font-size="17" text-anchor="middle" transform="rotate(-90 447.30 561.30)">0.4</text><line x1="471.90" y1="521.40" x2="460.90" y2="521.40" stroke="#000" stroke-width="1.7"/><text x="447.30" y="521.40" font-size="17" text-anchor="middle" transform="rotate(-90 447.30 521.40)">0.6</text><line x1="471.90" y1="481.50" x2="460.90" y2="481.50" stroke="#000" stroke-width="1.7"/><text x="447.30" y="481.50" font-size="17" text-anchor="middle" transform="rotate(-90 447.30 481.50)">0.8</text><line x1="484.60" y1="648.30" x2="673.30" y2="648.30" stroke="#000" stroke-width="1.7"/><line x1="484.60" y1="648.30" x2="484.60" y2="659.30" stroke="#000" stroke-width="1.7"/><line x1="516.05" y1="648.30" x2="516.05" y2="659.30" stroke="#000" stroke-width="1.7"/><line x1="547.50" y1="648.30" x2="547.50" y2="659.30" stroke="#000" stroke-width="1.7"/><line x1="578.95" y1="648.30" x2="578.95" y2="659.30" stroke="#000" stroke-width="1.7"/><line x1="610.40" y1="648.30" x2="610.40" y2="659.30" stroke="#000" stroke-width="1.7"/><line x1="641.85" y1="648.30" x2="641.85" y2="659.30" stroke="#000" stroke-width="1.7"/><line x1="673.30" y1="648.30" x2="673.30" y2="659.30" stroke="#000" stroke-width="1.7"/><text x="484.60" y="685.20" font-size="17" text-anchor="middle">3.0</text><text x="547.50" y="685.20" font-size="17" text-anchor="middle">4.0</text><text x="610.40" y="685.20" font-size="17" text-anchor="middle">5.0</text><text x="673.30" y="685.20" font-size="17" text-anchor="middle">6.0</text></g>
</svg>
</body></html>
